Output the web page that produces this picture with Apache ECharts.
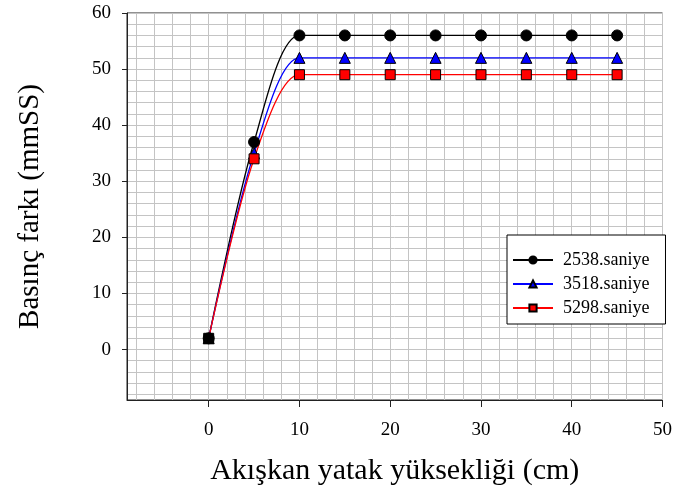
<!DOCTYPE html>
<html>
<head>
<meta charset="utf-8">
<script src="https://cdn.jsdelivr.net/npm/echarts@6/dist/echarts.min.js"></script>
<style>
html,body{margin:0;padding:0;background:#fff;}
#chart{width:675px;height:495px;}
</style>
</head>
<body>
<div id="chart"></div>
<script>
var xValues = [0, 5, 10, 15, 20, 25, 30, 35, 40, 45];
var s2538 = [2, 37, 56, 56, 56, 56, 56, 56, 56, 56];
var s3518 = [2, 35, 52, 52, 52, 52, 52, 52, 52, 52];
var s5298 = [2, 34, 49, 49, 49, 49, 49, 49, 49, 49];
var seriesNames = ['2538.saniye', '3518.saniye', '5298.saniye'];
var xTicks = [0, 10, 20, 30, 40, 50];
var yTicks = [0, 10, 20, 30, 40, 50, 60];

var FONT = '"Liberation Serif", "Times New Roman", serif';

function pairs(vals, firstBlack) {
  return xValues.map(function (x, i) {
    var d = { value: [x, vals[i]] };
    if (firstBlack && i === 0) d.itemStyle = { color: '#000' };
    return d;
  });
}

var chart = echarts.init(document.getElementById('chart'), null, { renderer: 'canvas' });
var gridColor = '#c4c4c4';
chart.setOption({
  animation: false,
  backgroundColor: '#fff',
  grid: { left: 127, right: 10, top: 13, bottom: 95, show: true, borderColor: '#222', borderWidth: 1, backgroundColor: 'transparent' },
  legend: {
    orient: 'vertical',
    left: 507, top: 235,
    padding: [16, 16, 7, 5],
    itemGap: 6,
    itemWidth: 40, itemHeight: 9,
    backgroundColor: '#fff',
    borderColor: '#000', borderWidth: 1,
    textStyle: { fontFamily: FONT, fontSize: 18, color: '#000', padding: [0, 0, 0, 5] },
    data: seriesNames
  },
  xAxis: [{
    type: 'value', min: -9, max: 50, interval: 1,
    axisLine: { show: true, onZero: false, lineStyle: { color: '#222', width: 1 } },
    axisTick: { show: false }, axisLabel: { show: false },
    splitLine: { show: true, lineStyle: { color: ['transparent', gridColor], width: 1 } }
  }, {
    type: 'value', min: -9, max: 50, position: 'bottom',
    axisLine: { show: false, onZero: false },
    axisTick: { show: true, customValues: xTicks, length: 7, lineStyle: { color: '#222' } },
    axisLabel: { show: true, customValues: xTicks, fontFamily: FONT, fontSize: 19, color: '#000', margin: 21 },
    splitLine: { show: false },
    name: 'Akışkan yatak yüksekliği (cm)', nameLocation: 'middle', nameGap: 56,
    nameTextStyle: { fontFamily: FONT, fontSize: 30, color: '#000' }
  }],
  yAxis: [{
    type: 'value', min: -9, max: 60, interval: 1,
    axisLine: { show: true, onZero: false, lineStyle: { color: '#222', width: 1 } },
    axisTick: { show: false }, axisLabel: { show: false },
    splitLine: { show: true, lineStyle: { color: ['transparent', gridColor], width: 1 } }
  }, {
    type: 'value', min: -9, max: 60, position: 'left',
    axisLine: { show: false, onZero: false },
    axisTick: { show: true, customValues: yTicks, length: 5, lineStyle: { color: '#222' } },
    axisLabel: { show: true, customValues: yTicks, fontFamily: FONT, fontSize: 19, color: '#000', margin: 16 },
    splitLine: { show: false },
    name: 'Basınç farkı (mmSS)', nameLocation: 'middle', nameGap: 82,
    nameTextStyle: { fontFamily: FONT, fontSize: 29, color: '#000' }
  }],
  series: [{
    name: seriesNames[0], type: 'line', smooth: 0.3,
    data: pairs(s2538, false),
    symbol: 'circle', symbolSize: 11,
    lineStyle: { color: '#000', width: 1.3 },
    itemStyle: { color: '#000', borderColor: '#000', borderWidth: 1 }
  }, {
    name: seriesNames[1], type: 'line', smooth: 0.3,
    data: pairs(s3518, true),
    symbol: 'triangle', symbolSize: 11,
    lineStyle: { color: '#0000ff', width: 1.3 },
    itemStyle: { color: '#0000ff', borderColor: '#000', borderWidth: 1 }
  }, {
    name: seriesNames[2], type: 'line', smooth: 0.3,
    data: pairs(s5298, true),
    symbol: 'rect', symbolSize: 10,
    lineStyle: { color: '#ff0000', width: 1.3 },
    itemStyle: { color: '#ff0000', borderColor: '#000', borderWidth: 1 }
  }]
});
</script>
</body>
</html>
